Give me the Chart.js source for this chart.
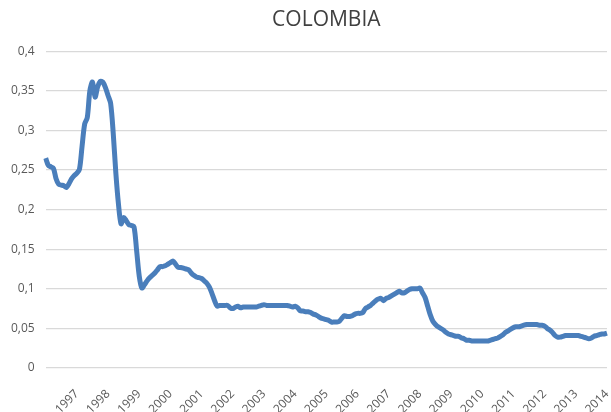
<!DOCTYPE html>
<html>
<head>
<meta charset="utf-8">
<script src="https://cdn.jsdelivr.net/npm/chart.js@4/dist/chart.umd.min.js"></script>
<style>
    html, body { margin: 0; padding: 0; background: #fff; }
    #wrap { width: 611px; height: 412px; }
</style>
</head>
<body>
<div id="wrap"><canvas id="colombiaChart"></canvas></div>
<script>
// Colombia - monthly series, Jan 1996 .. Jan 2014

const startYear = 1996;
const yearTicks = ['1997', '1998', '1999', '2000', '2001', '2002', '2003', '2004', '2005',
    '2006', '2007', '2008', '2009', '2010', '2011', '2012', '2013', '2014'];
const yTicks = [0, 0.05, 0.1, 0.15, 0.2, 0.25, 0.3, 0.35, 0.4];

const rates = [
    0.265, 0.256, 0.254, 0.252, 0.239, 0.232, 0.231, 0.230, 0.228, 0.233, 0.239, 0.243,
    0.246, 0.251, 0.280, 0.308, 0.316, 0.350, 0.361, 0.342, 0.355, 0.362, 0.361, 0.354,
    0.344, 0.334, 0.296, 0.246, 0.207, 0.182, 0.190, 0.186, 0.181, 0.180, 0.178, 0.148,
    0.116, 0.101, 0.105, 0.110, 0.114, 0.117, 0.120, 0.124, 0.128, 0.128, 0.129, 0.131,
    0.133, 0.135, 0.131, 0.127, 0.127, 0.126, 0.125, 0.124, 0.120, 0.117, 0.115, 0.114,
    0.113, 0.110, 0.107, 0.102, 0.094, 0.085, 0.078, 0.079, 0.079, 0.079, 0.079, 0.076,
    0.075, 0.077, 0.078, 0.076, 0.077, 0.077, 0.077, 0.077, 0.077, 0.077, 0.078, 0.079,
    0.080, 0.079, 0.079, 0.079, 0.079, 0.079, 0.079, 0.079, 0.079, 0.079, 0.078, 0.077,
    0.078, 0.076, 0.072, 0.072, 0.071, 0.071, 0.070, 0.068, 0.067, 0.065, 0.063, 0.062,
    0.061, 0.060, 0.058, 0.058, 0.058, 0.059, 0.063, 0.066, 0.065, 0.065, 0.066, 0.068,
    0.069, 0.069, 0.070, 0.075, 0.077, 0.079, 0.082, 0.085, 0.087, 0.088, 0.085, 0.088,
    0.089, 0.091, 0.093, 0.095, 0.097, 0.095, 0.095, 0.097, 0.099, 0.100, 0.100, 0.100,
    0.101, 0.095, 0.089, 0.078, 0.067, 0.059, 0.055, 0.052, 0.050, 0.048, 0.045, 0.043,
    0.042, 0.041, 0.040, 0.040, 0.038, 0.037, 0.035, 0.035, 0.034, 0.034, 0.034, 0.034,
    0.034, 0.034, 0.034, 0.035, 0.036, 0.037, 0.038, 0.040, 0.042, 0.045, 0.047, 0.049,
    0.051, 0.052, 0.052, 0.053, 0.054, 0.055, 0.055, 0.055, 0.055, 0.055, 0.054, 0.054,
    0.053, 0.050, 0.048, 0.045, 0.041, 0.039, 0.039, 0.040, 0.041, 0.041, 0.041, 0.041,
    0.041, 0.041, 0.040, 0.039, 0.038, 0.037, 0.038, 0.040, 0.041, 0.042, 0.043, 0.043,
    0.044
];

// month labels, year shown only at each January
const months = rates.map((_, i) => (startYear + Math.floor(i / 12)) + '-' + String(i % 12 + 1).padStart(2, '0'));

const fmt = v => String(Math.round(v * 100) / 100).replace('.', ',');

const ctx = document.getElementById('colombiaChart');
new Chart(ctx, {
    type: 'line',
    data: {
        labels: months,
        datasets: [{
            label: 'Colombia',
            data: rates,
            borderColor: '#4a7ebb',
            borderWidth: 5,
            pointRadius: 0,
            tension: 0.3,
            fill: false
        }]
    },
    options: {
        responsive: true,
        maintainAspectRatio: false,
        animation: false,
        layout: {
            padding: { left: 0, right: 4, top: 7, bottom: 0 }
        },
        plugins: {
            legend: { display: false },
            tooltip: { enabled: false },
            title: {
                display: true,
                text: 'COLOMBIA',
                fullSize: false,
                color: '#404040',
                font: { family: 'Open Sans', size: 21, weight: 'normal' },
                padding: { top: 0, bottom: 19 }
            }
        },
        scales: {
            y: {
                min: 0,
                max: 0.4,
                afterBuildTicks: axis => {
                    axis.ticks = yTicks.map(v => ({ value: v }));
                },
                border: { display: false },
                grid: { color: '#d9d9d9', lineWidth: 1.3, drawTicks: false },
                ticks: {
                    color: '#595959',
                    padding: 11,
                    font: { family: 'Open Sans', size: 12 },
                    callback: v => fmt(v)
                }
            },
            x: {
                offset: false,
                border: { display: false },
                grid: { display: false },
                afterFit: scale => {
                    scale.paddingRight = 0;
                    scale.height = 44;
                },
                ticks: {
                    autoSkip: false,
                    minRotation: 45,
                    maxRotation: 45,
                    padding: 11,
                    color: '#595959',
                    font: { family: 'Open Sans', size: 12 },
                    callback: (val, idx) => {
                        if (idx % 12 !== 0 || idx === 0) return '';
                        return yearTicks[idx / 12 - 1];
                    }
                }
            }
        }
    }
});
</script>
</body>
</html>
